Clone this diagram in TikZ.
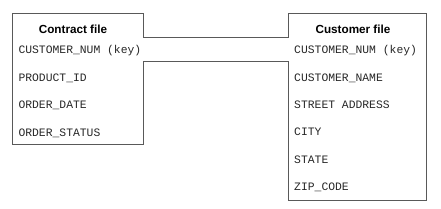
\documentclass[tikz,border=0pt]{standalone}
\usepackage{fontspec}
\setmainfont{Liberation Sans}
\newfontfamily\fieldfont{Liberation Mono}
\usetikzlibrary{positioning}
\tikzset{
	fieldtext/.style={font=\fieldfont\fontsize{9.7}{11}\selectfont, anchor=base west, inner sep=0pt, text=black!85}
}
\tikzset{
	filetitle/.style={font=\bfseries\fontsize{10}{12}\selectfont, anchor=base, inner sep=0pt}
}
\tikzset{
	boxline/.style={draw=black!65, line width=0.7pt}
}

\begin{document}
\begin{tikzpicture}[x=0.03cm, y=-0.03cm]
      \useasboundingbox (0,0) rectangle (441,209);
      % box corners
      \coordinate (contract nw) at (12,13);
      \coordinate (contract se) at (143,144);
      \coordinate (customer nw) at (288,13);
      \coordinate (customer se) at (426,200);
      % channel between the two key fields
      \coordinate (link top) at (143,37);
      \coordinate (link bot) at (143,61);
      % outline of both files joined by the channel
      \draw[boxline] (link top) -- (contract se |- contract nw) -- (contract nw)
            -- (contract nw |- contract se) -- (contract se) -- (link bot)
            -- (customer nw |- link bot) -- (customer nw |- customer se)
            -- (customer se) -- (customer se |- customer nw) -- (customer nw)
            -- (customer nw |- link top) -- cycle;
      % titles
      \node[filetitle] (contract title) at (73,33.5) {Contract file};
      \node[filetitle] (customer title) at (353,34) {Customer file};
      % fields
      \foreach \txt [count=\i from 0] in {CUSTOMER\_NUM (key), PRODUCT\_ID, ORDER\_DATE, ORDER\_STATUS}
        \node[fieldtext] (contract field \i) at (18.3,53.6+27.6*\i) {\txt};
      \foreach \txt [count=\i from 0] in {CUSTOMER\_NUM (key), CUSTOMER\_NAME, STREET ADDRESS, CITY, STATE, ZIP\_CODE}
        \node[fieldtext] (customer field \i) at (294,53.8+27.4*\i) {\txt};
    \end{tikzpicture}
\end{document}
